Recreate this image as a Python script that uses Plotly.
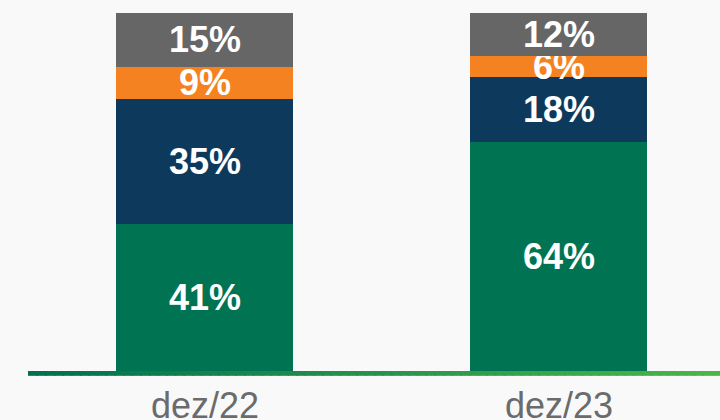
import plotly.graph_objects as go

categories = ["dez/22", "dez/23"]
series_names = ["Verde", "Azul", "Laranja", "Cinza"]
verde = [41, 64]
azul = [35, 18]
laranja = [9, 6]
cinza = [15, 12]

colors = ["#007352", "#0d3a5c", "#f58220", "#666666"]
series_values = [verde, azul, laranja, cinza]

x_pos = list(range(len(categories)))

fig = go.Figure()
for name, vals, col in zip(series_names, series_values, colors):
    fig.add_trace(go.Bar(
        x=x_pos, y=vals, name=name,
        marker=dict(color=col, line=dict(width=0)),
        width=0.5,
        text=[f"{v}%" for v in vals],
        textposition="inside",
        insidetextanchor="middle",
        constraintext="none",
        textangle=0,
        textfont=dict(family="Arial, Liberation Sans, sans-serif", size=36, color="white", weight="bold"),
        hoverinfo="skip",
    ))

# gradient baseline decoration
n = 80
c0 = (0x00, 0x70, 0x50)
c1 = (0x4c, 0xb6, 0x48)
for i in range(n):
    t = i / (n - 1)
    c = tuple(round(a + (b - a) * t) for a, b in zip(c0, c1))
    fig.add_shape(type="rect", xref="paper", yref="paper",
                  x0=i / n, x1=(i + 1) / n + 0.002, y0=-0.0135, y1=0.0,
                  fillcolor="rgb(%d,%d,%d)" % c, line=dict(width=0), layer="above")

fig.update_layout(
    width=720, height=420,
    barmode="stack",
    showlegend=False,
    paper_bgcolor="#f9f9f9",
    plot_bgcolor="#f9f9f9",
    margin=dict(l=28, r=0, t=13, b=49, autoexpand=False),
    xaxis=dict(range=[-0.5, 1.455], tickvals=x_pos, ticktext=categories,
               showgrid=False, zeroline=False, showline=False, ticks="",
               ticklabelstandoff=10, automargin=False,
               tickfont=dict(family="Arial, Liberation Sans, sans-serif", size=36, color="#6b6b6b")),
    yaxis=dict(range=[0, 100], visible=False, showgrid=False, zeroline=False, automargin=False),
)

fig.write_html(
    "out.html",
    config={"displayModeBar": False, "staticPlot": True},
    post_script="document.body.style.margin='0';document.body.style.padding='0';"
                "document.body.style.background='#f9f9f9';document.body.style.overflow='hidden';",
)
